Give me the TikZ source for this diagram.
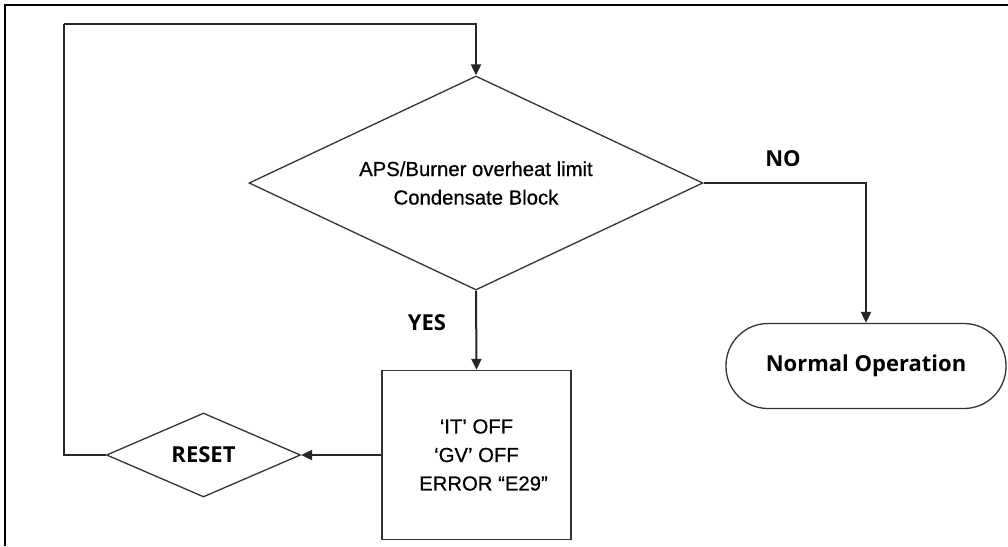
\documentclass[tikz,border=0pt]{standalone}
\usepackage{fontspec}
\setmainfont{Liberation Sans}[FakeBold=0.6]
\newfontfamily\labelfont{Open Sans}
\usetikzlibrary{shapes.geometric,arrows.meta}
\begin{document}
\begin{tikzpicture}[x=1pt,y=-1pt,
  shapeline/.style={draw=black!80, line width=1.3pt, fill=white},
  decision/.style={shapeline, diamond, inner sep=0pt, align=center},
  procbox/.style={shapeline, rectangle, inner sep=0pt, align=center},
  termbox/.style={shapeline, rectangle, rounded corners=42pt, inner sep=0pt},
  conn/.style={draw=black!85, line width=2pt},
  arr/.style={conn, -{Triangle[length=11pt,width=10pt]}},
  body/.style={font=\fontsize{20.3}{28.5}\selectfont},
  lbl/.style={font=\labelfont\bfseries\fontsize{22}{25}\selectfont}
]
\useasboundingbox (0,0) rectangle (1008,546);
\fill[white] (0,0) rectangle (1008,546);
% frame
\draw[black, line width=2.5pt] (5,546) -- (5,5) -- (1008,5);

\node[decision, body, minimum width=454pt, minimum height=214pt, aspect=2.12] (dec) at (476,183)
  {APS/Burner overheat limit\\Condensate Block};
\node[procbox, body, minimum width=189pt, minimum height=169pt] (box) at (476.5,455)
  {‘IT’ OFF\\‘GV’ OFF\\\hspace*{14pt}ERROR “E29”};
\node[decision, lbl, minimum width=194pt, minimum height=84pt, aspect=2.3] (reset) at (203.5,455) {RESET};
\node[termbox, lbl, minimum width=280pt, minimum height=85pt] (normal) at (866,366) {Normal Operation};

\coordinate (tl) at (64,24);

\draw[arr] (dec.east) -| (normal.north);
\draw[arr] (dec.south) -- (box.north);
\draw[arr] (box.west) -- (reset.east);
\draw[conn] (reset.west) -| (tl);
\draw[arr] (tl) -| (dec.north);

\node[lbl] (no) at (783,159) {NO};
\node[lbl] (yes) at (427,323) {YES};
\end{tikzpicture}
\end{document}
